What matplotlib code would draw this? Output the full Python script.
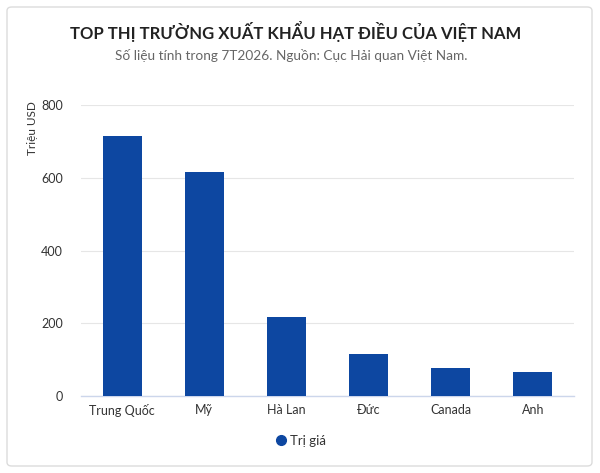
import matplotlib
matplotlib.use("Agg")
import matplotlib.pyplot as plt
from matplotlib.patches import FancyBboxPatch
from matplotlib.lines import Line2D

plt.rcParams['font.family'] = ['Lato', 'DejaVu Sans']

categories = ["Trung Quốc", "Mỹ", "Hà Lan", "Đức", "Canada", "Anh"]
values = [715, 615, 217, 115, 78, 65]
yticks = [0, 200, 400, 600, 800]
series_name = "Trị giá"
bar_color = "#0D47A1"

fig = plt.figure(figsize=(6, 4.73), dpi=100)
fig.patch.set_facecolor("white")

card = FancyBboxPatch((7/600, 1-466/473), 585/600, 459/473,
                      boxstyle="round,pad=0,rounding_size=0.008",
                      transform=fig.transFigure, facecolor="white",
                      edgecolor="#dcdcdc", linewidth=1.0, zorder=-10)
fig.patches.append(card)

ax = fig.add_axes([81/600, 1-396/473, 493/600, (396-105)/473])
ax.set_zorder(5)
ax.set_facecolor("none")
x = range(len(categories))
ax.bar(x, values, width=0.475, color=bar_color, zorder=3)
ax.set_xlim(-0.5, len(categories)-0.5)
ax.set_ylim(0, 800)
ax.set_yticks(yticks)
ax.set_yticklabels([str(t) for t in yticks], fontsize=9, color="#333333")
ax.set_xticks(list(x))
ax.set_xticklabels(categories, fontsize=9, color="#333333")
ax.tick_params(axis='both', length=0)
ax.tick_params(axis='y', pad=13)
ax.tick_params(axis='x', pad=6)
ax.grid(axis='y', color="#e6e6e6", linewidth=0.8, zorder=0)
for s in ["top", "right", "left"]:
    ax.spines[s].set_visible(False)
ax.spines["bottom"].set_color("#ccd6eb")
ax.spines["bottom"].set_linewidth(1.0)

fig.text(296/600, 1-31/473, "TOP THỊ TRƯỜNG XUẤT KHẨU HẠT ĐIỀU CỦA VIỆT NAM",
         ha="center", va="center", fontsize=12, fontweight="bold", color="#222222")
fig.text(291/600, 1-55/473, "Số liệu tính trong 7T2026. Nguồn: Cục Hải quan Việt Nam.",
         ha="center", va="center", fontsize=9.8, color="#666666")
fig.text(32/600, 1-128/473, "Triệu USD", rotation=90, ha="center", va="center",
         fontsize=8.5, color="#333333")

handle = Line2D([], [], marker='o', linestyle='none', markersize=7,
                markerfacecolor=bar_color, markeredgecolor=bar_color)
fig.legend([handle], [series_name], loc="center", bbox_to_anchor=(300/600, 1-441/473),
           frameon=False, fontsize=9.5, handletextpad=0.2, handlelength=1.0,
           labelcolor="#333333")

fig.savefig("out.png", dpi=100, facecolor="white")
